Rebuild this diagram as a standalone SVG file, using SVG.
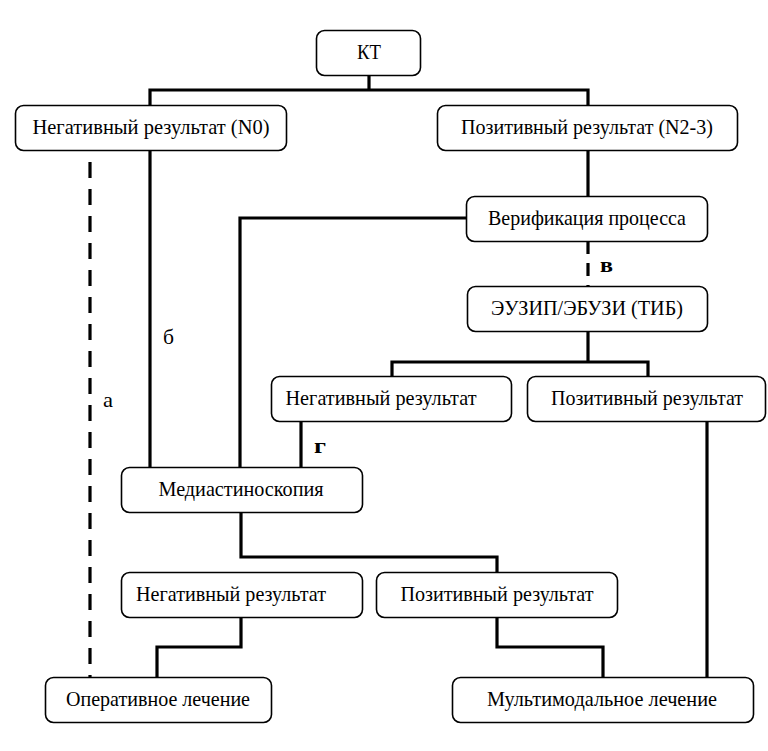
<svg xmlns="http://www.w3.org/2000/svg" width="768" height="751" viewBox="0 0 768 751">
<style>
.box{fill:#fff;stroke:#000;stroke-width:1.6}
text{font-family:'Liberation Serif','Times New Roman','DejaVu Serif',serif;font-size:22px;fill:#000}
.t{text-anchor:middle}
.c{fill:none;stroke:#000;stroke-width:3.2;stroke-linejoin:miter}
.d{fill:none;stroke:#000;stroke-width:3.2;stroke-dasharray:16 11}
</style>
<rect width="768" height="751" fill="#fff"/>
<g id="connectors">
<polyline class="c" points="369,75 369,90"/>
<polyline class="c" points="150,105 150,90 588,90 588,105"/>
<polyline class="c" points="150,150 150,467"/>
<polyline class="c" points="588,150 588,196"/>
<polyline class="c" points="466,218 240,218 240,467"/>
<line class="d" x1="588" y1="241" x2="588" y2="286" style="stroke-dasharray:13 9"/>
<polyline class="c" points="588,331 588,362"/>
<polyline class="c" points="392,376 392,362 648,362 648,376"/>
<polyline class="c" points="301,422 301,467"/>
<polyline class="c" points="707,422 707,677"/>
<polyline class="c" points="241,512 241,557 497,557 497,572"/>
<polyline class="c" points="241,617 241,647 157,647 157,677"/>
<polyline class="c" points="497,617 497,647 603,647 603,677"/>
<line class="d" x1="90" y1="162" x2="90" y2="677"/>
<text x="163" y="344" textLength="11" lengthAdjust="spacingAndGlyphs">б</text>
<text x="103" y="407" textLength="10" lengthAdjust="spacingAndGlyphs">а</text>
<text x="600" y="272" font-weight="bold" textLength="13" lengthAdjust="spacingAndGlyphs">в</text>
<text x="314" y="453" font-weight="bold" textLength="12" lengthAdjust="spacingAndGlyphs">г</text>
</g>
<g id="kt"><rect class="box" x="316.5" y="30.5" width="104" height="45" rx="8"/><text class="t" x="369" y="59" textLength="24" lengthAdjust="spacingAndGlyphs">КТ</text></g>
<g id="neg0"><rect class="box" x="15.5" y="105.5" width="271" height="45" rx="8"/><text class="t" x="151" y="134" textLength="237" lengthAdjust="spacingAndGlyphs">Негативный результат (N0)</text></g>
<g id="pos23"><rect class="box" x="437.5" y="105.5" width="300" height="45" rx="8"/><text class="t" x="587" y="134" textLength="252" lengthAdjust="spacingAndGlyphs">Позитивный результат (N2-3)</text></g>
<g id="verif"><rect class="box" x="466.5" y="196.5" width="241" height="45" rx="8"/><text class="t" x="587" y="225" textLength="198" lengthAdjust="spacingAndGlyphs">Верификация процесса</text></g>
<g id="euzip"><rect class="box" x="467.5" y="286.5" width="240" height="45" rx="8"/><text class="t" x="587" y="315" textLength="192" lengthAdjust="spacingAndGlyphs">ЭУЗИП/ЭБУЗИ (ТИБ)</text></g>
<g id="neg2"><rect class="box" x="271.5" y="376.5" width="240" height="45" rx="8"/><text class="t" x="381" y="405" textLength="191" lengthAdjust="spacingAndGlyphs">Негативный результат</text></g>
<g id="pos2"><rect class="box" x="527.5" y="376.5" width="238" height="45" rx="8"/><text class="t" x="647" y="405" textLength="192" lengthAdjust="spacingAndGlyphs">Позитивный результат</text></g>
<g id="mediast"><rect class="box" x="121.5" y="467.5" width="241" height="45" rx="8"/><text class="t" x="241" y="496" textLength="165" lengthAdjust="spacingAndGlyphs">Медиастиноскопия</text></g>
<g id="neg3"><rect class="box" x="121.5" y="572.5" width="241" height="45" rx="8"/><text class="t" x="231" y="601" textLength="190" lengthAdjust="spacingAndGlyphs">Негативный результат</text></g>
<g id="pos3"><rect class="box" x="376.5" y="572.5" width="241" height="45" rx="8"/><text class="t" x="497" y="601" textLength="193" lengthAdjust="spacingAndGlyphs">Позитивный результат</text></g>
<g id="oper"><rect class="box" x="45.5" y="677.5" width="226" height="45" rx="8"/><text class="t" x="158" y="706" textLength="184" lengthAdjust="spacingAndGlyphs">Оперативное лечение</text></g>
<g id="multi"><rect class="box" x="452.5" y="677.5" width="301" height="45" rx="8"/><text class="t" x="602" y="706" textLength="230" lengthAdjust="spacingAndGlyphs">Мультимодальное лечение</text></g>
</svg>
